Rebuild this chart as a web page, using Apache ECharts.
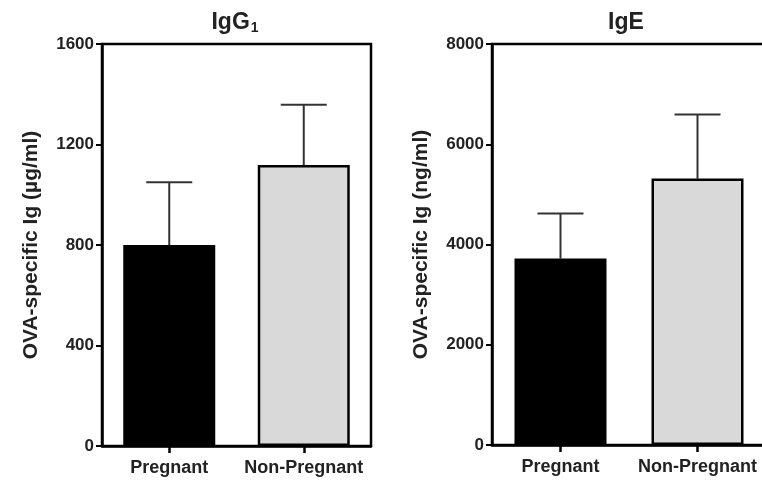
<!DOCTYPE html>
<html>
<head>
<meta charset="utf-8">
<script src="https://cdn.jsdelivr.net/npm/echarts@6/dist/echarts.min.js"></script>
<style>
  html, body { margin: 0; padding: 0; background: #fff; }
  #chart { width: 762px; height: 481px; }
</style>
</head>
<body>
<div id="chart"></div>
<script>
// groups on the x axis
var categories = ['Pregnant', 'Non-Pregnant'];
// IgG1 (µg/ml): mean and SEM
var igg1Mean = [800, 1118];
var igg1Sem = [250, 240];
// IgE (ng/ml): mean and SEM
var igeMean = [3720, 5315];
var igeSem = [900, 1280];
var barColors = ['#000000', '#d9d9d9'];

var font = "'Liberation Sans', Arial, sans-serif";

function errorSeries(idx, mean, sem) {
  return {
    type: 'custom',
    xAxisIndex: idx,
    yAxisIndex: idx,
    z: 1,
    data: mean.map(function (m, i) { return [i, m, m + sem[i]]; }),
    renderItem: function (params, api) {
      var lo = api.coord([api.value(0), api.value(1)]);
      var hi = api.coord([api.value(0), api.value(2)]);
      var half = 23;
      var st = { stroke: '#333', lineWidth: 2 };
      return {
        type: 'group',
        children: [
          { type: 'line', shape: { x1: lo[0], y1: lo[1], x2: hi[0], y2: hi[1] }, style: st },
          { type: 'line', shape: { x1: hi[0] - half, y1: hi[1], x2: hi[0] + half, y2: hi[1] }, style: st }
        ]
      };
    }
  };
}

function barSeries(idx, mean) {
  return {
    type: 'bar',
    xAxisIndex: idx,
    yAxisIndex: idx,
    barWidth: 92,
    z: 2,
    data: mean.map(function (m, i) {
      return { value: m, itemStyle: { color: barColors[i] } };
    }),
    itemStyle: { borderColor: '#000', borderWidth: 2.5 }
  };
}

function yAxis(idx, max, interval, name) {
  return {
    type: 'value',
    gridIndex: idx,
    min: 0,
    max: max,
    interval: interval,
    name: name,
    nameLocation: 'middle',
    nameGap: 60,
    nameTextStyle: { fontFamily: font, fontWeight: 'bold', fontSize: 21, color: '#222' },
    axisLine: { show: true, lineStyle: { color: '#000', width: 2.5 } },
    axisTick: { show: true, length: 6, lineStyle: { color: '#000', width: 2 } },
    splitLine: { show: false },
    axisLabel: {
      fontFamily: font, fontWeight: 'bold', fontSize: 17, color: '#222', margin: 8,
      formatter: function (v) { return String(v); }
    }
  };
}

function xAxis(idx) {
  return {
    type: 'category',
    gridIndex: idx,
    data: categories,
    axisLine: { lineStyle: { color: '#000', width: 2.5 } },
    axisTick: { show: true, alignWithLabel: true, interval: 0, length: 7, lineStyle: { color: '#000', width: 2.5 } },
    axisLabel: { interval: 0, fontFamily: font, fontWeight: 'bold', fontSize: 18, color: '#222', margin: 13 }
  };
}

var chart = echarts.init(document.getElementById('chart'));
chart.setOption({
  animation: false,
  title: [
    {
      text: '{a|IgG}{b|1}',
      left: 230, top: 6, textAlign: 'center',
      textStyle: {
        rich: {
          a: { fontFamily: font, fontWeight: 'bold', fontSize: 23, color: '#222' },
          b: { fontFamily: font, fontWeight: 'bold', fontSize: 14, color: '#222', padding: [10, 0, 0, 1] }
        }
      }
    },
    {
      text: 'IgE',
      left: 621, top: 6, textAlign: 'center',
      textStyle: { fontFamily: font, fontWeight: 'bold', fontSize: 23, color: '#222' }
    }
  ],
  grid: [
    { left: 102, width: 269, top: 44, height: 402, show: true, borderColor: '#000', borderWidth: 2.5, outerBoundsMode: 'none' },
    { left: 492, width: 274, top: 44, height: 401, show: true, borderColor: '#000', borderWidth: 2.5, outerBoundsMode: 'none' }
  ],
  xAxis: [xAxis(0), xAxis(1)],
  yAxis: [
    yAxis(0, 1600, 400, 'OVA-specific Ig (µg/ml)'),
    yAxis(1, 8000, 2000, 'OVA-specific Ig (ng/ml)')
  ],
  series: [
    barSeries(0, igg1Mean),
    errorSeries(0, igg1Mean, igg1Sem),
    barSeries(1, igeMean),
    errorSeries(1, igeMean, igeSem)
  ]
});
</script>
</body>
</html>
